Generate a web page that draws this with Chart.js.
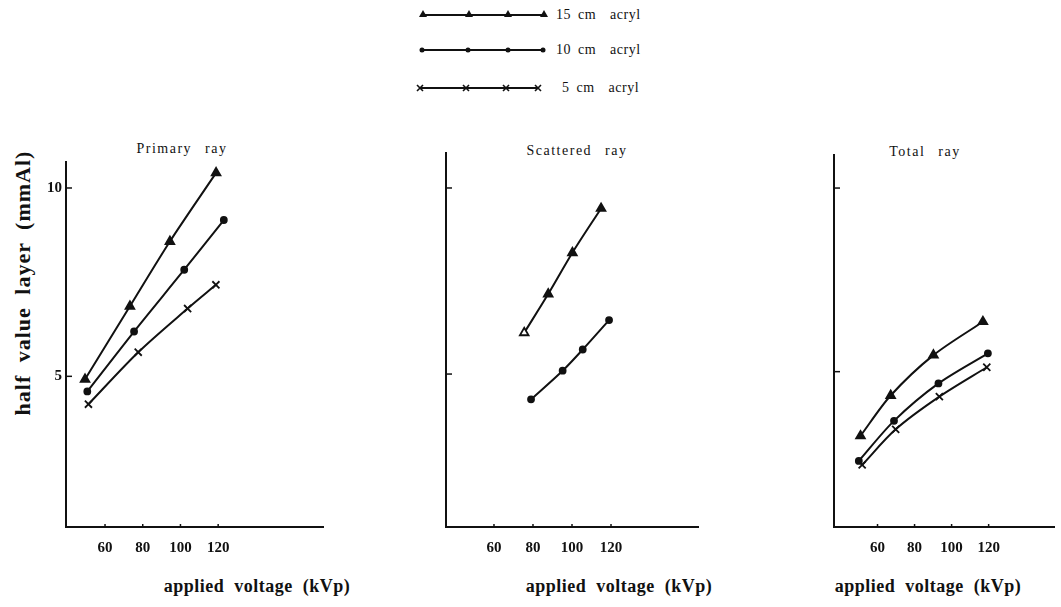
<!DOCTYPE html>
<html>
<head>
<meta charset="utf-8">
<script src="https://cdn.jsdelivr.net/npm/chart.js@4/dist/chart.umd.min.js"></script>
<style>
  body { margin: 0; background: #fff; width: 1061px; height: 607px; position: relative; overflow: hidden;
         font-family: "Liberation Serif", "DejaVu Serif", serif; color: #111; }
  canvas { position: absolute; }
  .t { position: absolute; white-space: pre; transform: translate(-50%, -50%); line-height: 1; }
  .panelTitle { font-size: 14px; letter-spacing: 1.5px; word-spacing: 8px; }
  .xTitle { font-size: 18px; font-weight: bold; letter-spacing: 0.5px; word-spacing: 5px; }
  .legendText { position: absolute; white-space: pre; font-size: 14px; letter-spacing: 0.5px; word-spacing: 3px;
                transform: translateY(-50%); line-height: 1; }
</style>
</head>
<body>

<svg id="legendSvg" width="1061" height="110" style="position:absolute;left:0;top:0"></svg>
<div class="legendText" style="left:556px;top:15px">15 cm  acryl</div>
<div class="legendText" style="left:556px;top:50px">10 cm  acryl</div>
<div class="legendText" style="left:562px;top:88px">5 cm  acryl</div>

<div class="t" style="left:23px;top:283px;transform:translate(-50%,-50%) rotate(-90deg);font-size:22px;font-weight:bold;letter-spacing:1px;word-spacing:6px">half value layer (mmAl)</div>

<div class="t panelTitle" style="left:182px;top:149px">Primary ray</div>
<div class="t panelTitle" style="left:577px;top:151px">Scattered ray</div>
<div class="t panelTitle" style="left:925px;top:152px">Total ray</div>

<div class="t xTitle" style="left:257px;top:586px">applied voltage (kVp)</div>
<div class="t xTitle" style="left:619px;top:586px">applied voltage (kVp)</div>
<div class="t xTitle" style="left:928px;top:586px">applied voltage (kVp)</div>

<canvas id="primary" width="335" height="420" style="left:0px;top:140px"></canvas>
<canvas id="scattered" width="290" height="430" style="left:420px;top:130px"></canvas>
<canvas id="total" width="261" height="430" style="left:800px;top:130px"></canvas>

<script>
// tick positions
const xTickValues = [60, 80, 100, 120]
const yTickValues = [5, 10]
const legendLabels = ['15 cm acryl', '10 cm acryl', '5 cm acryl']

// Primary ray (kVp, HVL mmAl)
const primary15kv = [49.4, 73.2, 94.4, 118.9]
const primary15hvl = [4.92, 6.86, 8.58, 10.4]
const primary10kv = [50.6, 75.4, 102, 123]
const primary10hvl = [4.6, 6.19, 7.83, 9.15]
const primary5kv = [51.2, 77.6, 103.8, 118.8]
const primary5hvl = [4.26, 5.64, 6.8, 7.43]

// Scattered ray
const scattered15kv = [75.5, 87.8, 100.2, 114.9]
const scattered15hvl = [6.11, 7.15, 8.26, 9.45]
const scattered10kv = [79, 95.2, 105.5, 119]
const scattered10hvl = [4.32, 5.09, 5.66, 6.45]

// Total ray
const total15kv = [50.8, 67.1, 90.2, 116.9]
const total15hvl = [3.25, 4.35, 5.45, 6.36]
const total10kv = [49.9, 68.9, 92.9, 119.6]
const total10hvl = [2.57, 3.66, 4.68, 5.5]
const total5kv = [51.7, 69.8, 93.4, 119]
const total5hvl = [2.46, 3.43, 4.32, 5.12]

const INK = '#111'
const FONT = '"Liberation Serif", "DejaVu Serif", serif'

const styles = {
  15: { pointStyle: 'triangle', pointRadius: 5 },
  10: { pointStyle: 'circle', pointRadius: 3 },
  5: { pointStyle: 'crossRot', pointRadius: 5 }
}

const series = (kv, hvl, cm, fill) => ({
  label: legendLabels[[15, 10, 5].indexOf(cm)],
  data: kv.map((v, i) => ({ x: v, y: hvl[i] })),
  borderColor: INK,
  backgroundColor: INK,
  pointBackgroundColor: fill || INK,
  pointBorderColor: INK,
  pointBorderWidth: 1.8,
  borderWidth: 2,
  tension: 0.3,
  clip: false,
  ...styles[cm]
})

// small inward tick marks on both axes
const inwardTicks = {
  id: 'inwardTicks',
  afterDraw (chart) {
    const { ctx, chartArea, scales: { x, y } } = chart
    ctx.save()
    ctx.strokeStyle = INK
    ctx.lineWidth = 1.5
    yTickValues.forEach(v => {
      const py = y.getPixelForValue(v)
      ctx.beginPath()
      ctx.moveTo(chartArea.left, py)
      ctx.lineTo(chartArea.left + 6, py)
      ctx.stroke()
    })
    xTickValues.forEach(v => {
      const px = x.getPixelForValue(v)
      ctx.beginPath()
      ctx.moveTo(px, chartArea.bottom)
      ctx.lineTo(px, chartArea.bottom - 3)
      ctx.stroke()
    })
    ctx.restore()
  }
}

const makePanel = (id, datasets, cfg) => new Chart(document.getElementById(id), {
  type: 'line',
  data: { datasets },
  options: {
    responsive: false,
    animation: false,
    events: [],
    layout: { padding: { top: cfg.padTop, right: cfg.padRight, left: 0, bottom: 0 } },
    plugins: { legend: { display: false }, tooltip: { enabled: false } },
    scales: {
      x: {
        type: 'linear',
        min: cfg.xMin,
        max: cfg.xMax,
        afterBuildTicks: s => { s.ticks = xTickValues.map(v => ({ value: v })) },
        afterFit: s => { s.height = 33 },
        grid: { display: false, drawTicks: false },
        border: { color: INK, width: 2 },
        ticks: { color: INK, padding: 12, maxRotation: 0, autoSkip: false, font: { family: FONT, size: 15, weight: 'bold' } }
      },
      y: {
        type: 'linear',
        min: cfg.yMin,
        max: cfg.yMax,
        afterBuildTicks: s => { s.ticks = yTickValues.map(v => ({ value: v })) },
        afterFit: s => { s.width = cfg.yWidth },
        grid: { display: false, drawTicks: false },
        border: { color: INK, width: 2 },
        ticks: { display: cfg.yLabels, color: INK, padding: 4, font: { family: FONT, size: 15, weight: 'bold' } }
      }
    }
  },
  plugins: [inwardTicks]
})

makePanel('primary', [
  series(primary15kv, primary15hvl, 15),
  series(primary10kv, primary10hvl, 10),
  series(primary5kv, primary5hvl, 5)
], { xMin: 39.3, xMax: 175.6, yMin: 1.0, yMax: 10.69, yWidth: 66, padTop: 22, padRight: 12, yLabels: true })

makePanel('scattered', [
  series(scattered15kv, scattered15hvl, 15, [ '#fff', INK, INK, INK ]),
  series(scattered10kv, scattered10hvl, 10)
], { xMin: 35.4, xMax: 164.6, yMin: 0.89, yMax: 10.94, yWidth: 26, padTop: 23, padRight: 12, yLabels: false })

makePanel('total', [
  series(total15kv, total15hvl, 15),
  series(total10kv, total10hvl, 10),
  series(total5kv, total5hvl, 5)
], { xMin: 36.5, xMax: 155.4, yMin: 0.77, yMax: 10.9, yWidth: 34, padTop: 25, padRight: 4, yLabels: false })

// legend sample lines
const svg = document.getElementById('legendSvg')
const NS = 'http://www.w3.org/2000/svg'
const legendRows = [
  { y: 15, xs: [423, 469, 508, 544], mark: 'tri' },
  { y: 50, xs: [422, 468, 508, 543], mark: 'dot' },
  { y: 88, xs: [420, 466, 506, 538], mark: 'x' }
]
legendRows.forEach(r => {
  const line = document.createElementNS(NS, 'line')
  line.setAttribute('x1', r.xs[0]); line.setAttribute('x2', r.xs[3])
  line.setAttribute('y1', r.y); line.setAttribute('y2', r.y)
  line.setAttribute('stroke', INK); line.setAttribute('stroke-width', '2')
  svg.appendChild(line)
  r.xs.forEach(x => {
    let el
    if (r.mark === 'tri') {
      el = document.createElementNS(NS, 'polygon')
      el.setAttribute('points', `${x},${r.y - 5} ${x - 4},${r.y + 2} ${x + 4},${r.y + 2}`)
      el.setAttribute('fill', INK)
    } else if (r.mark === 'dot') {
      el = document.createElementNS(NS, 'circle')
      el.setAttribute('cx', x); el.setAttribute('cy', r.y); el.setAttribute('r', 2.5)
      el.setAttribute('fill', INK)
    } else {
      el = document.createElementNS(NS, 'path')
      el.setAttribute('d', `M${x - 3},${r.y - 3}L${x + 3},${r.y + 3}M${x - 3},${r.y + 3}L${x + 3},${r.y - 3}`)
      el.setAttribute('stroke', INK); el.setAttribute('stroke-width', '1.6')
    }
    svg.appendChild(el)
  })
})
</script>
</body>
</html>
